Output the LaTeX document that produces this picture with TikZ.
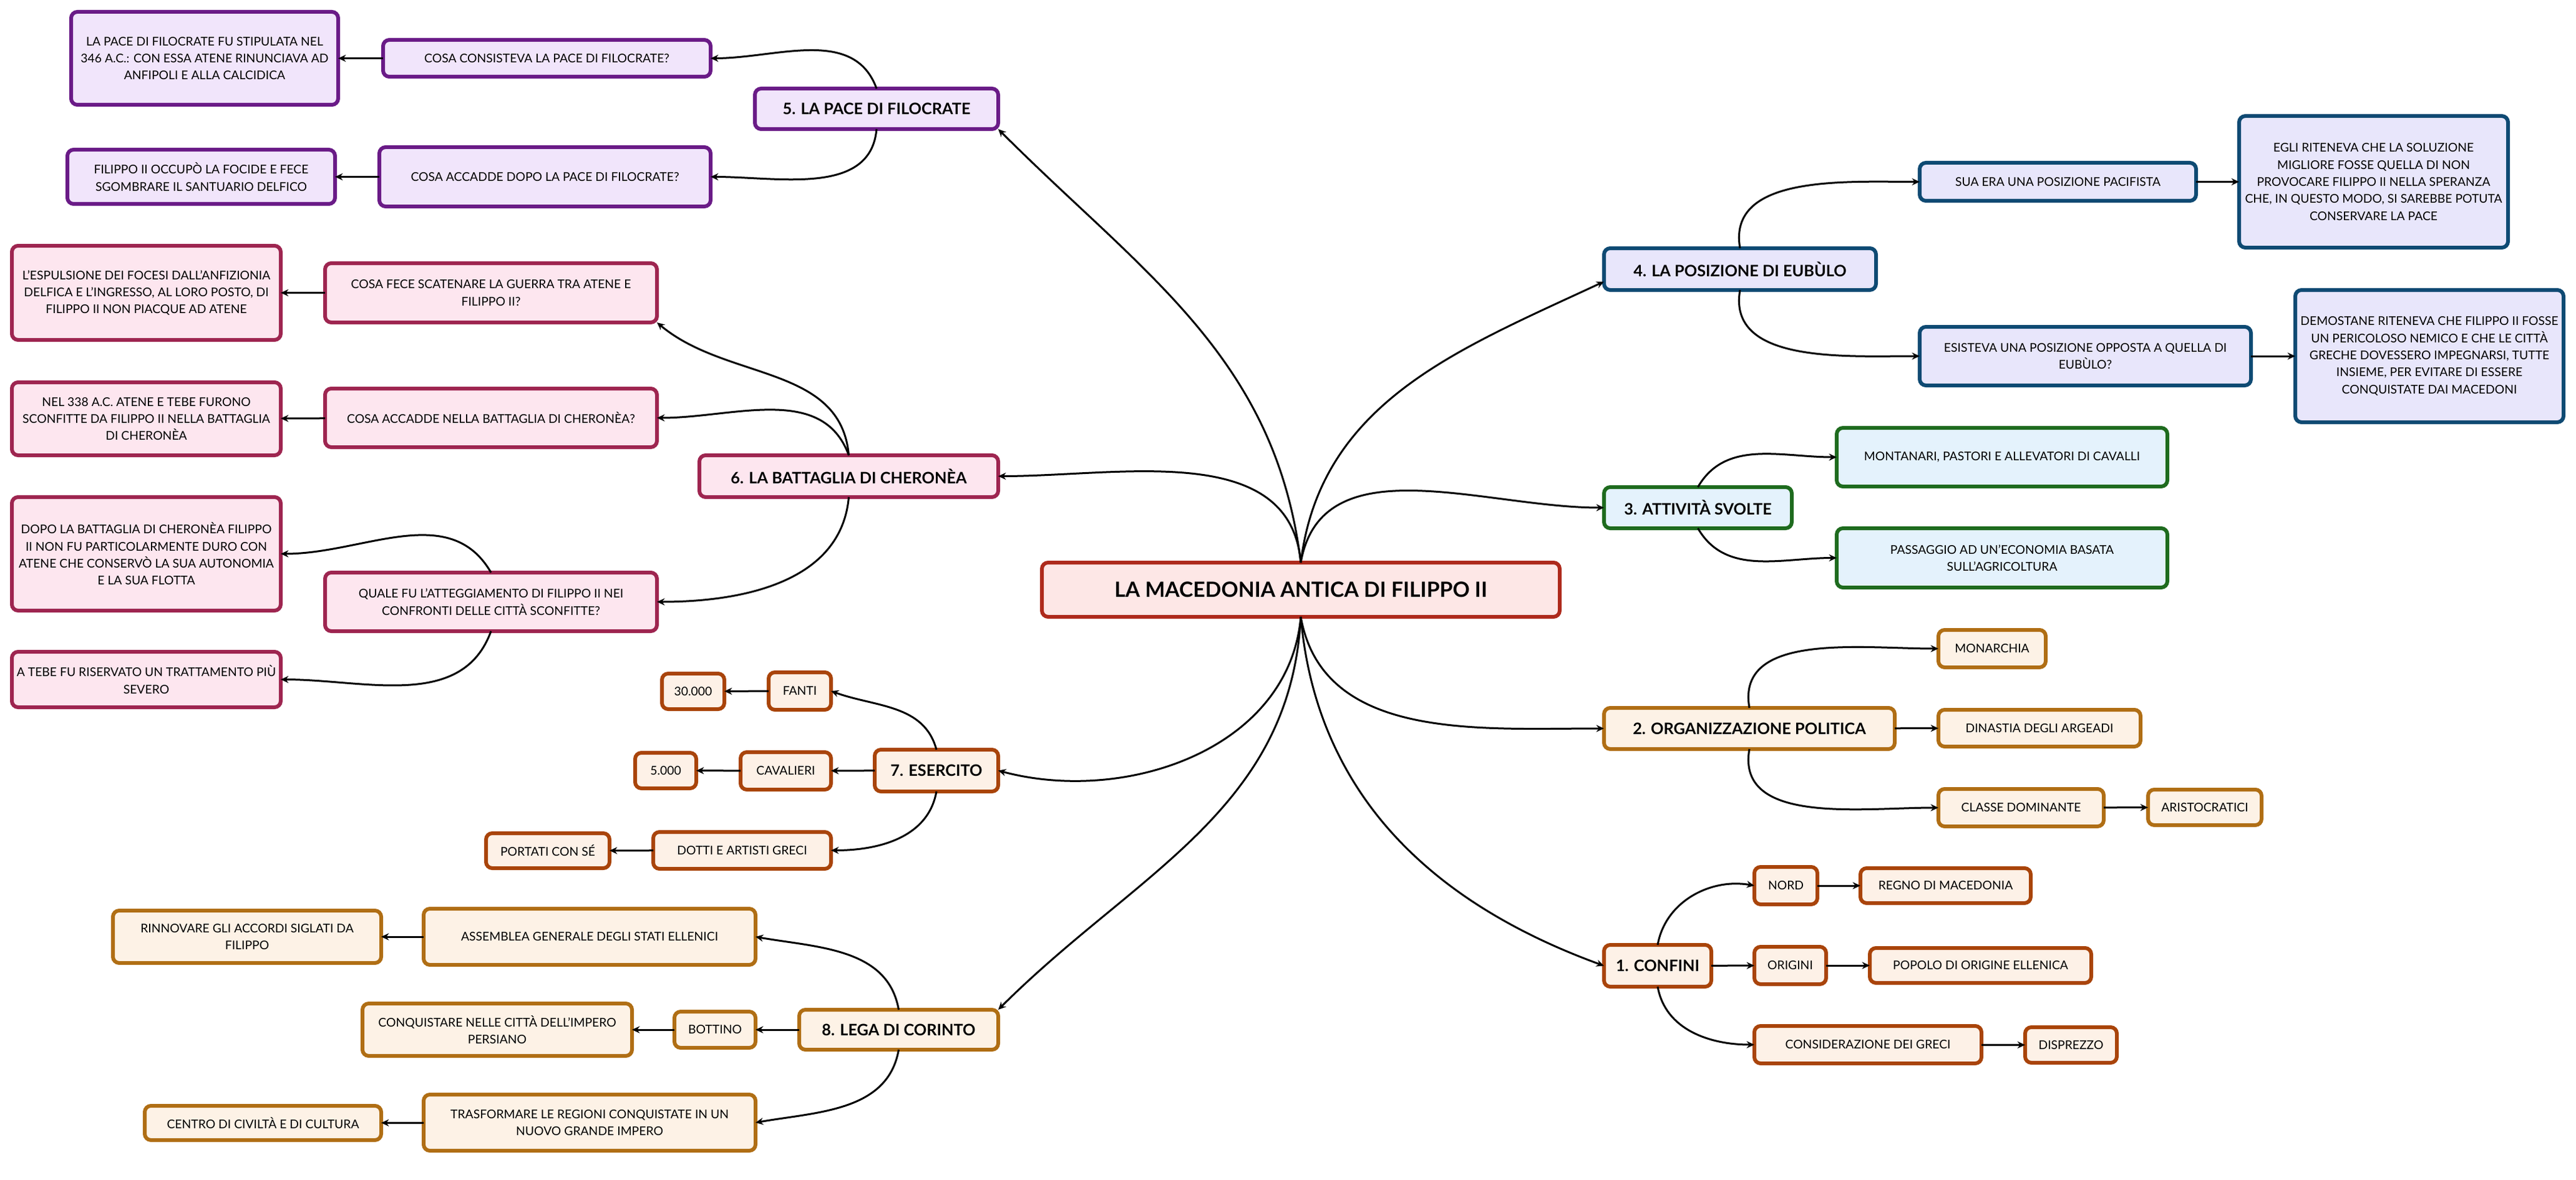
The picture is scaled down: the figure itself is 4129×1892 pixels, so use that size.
\documentclass[tikz,border=0pt]{standalone}
\usepackage{fontspec}
\setmainfont{Lato}
\usetikzlibrary{arrows.meta}
\definecolor{purB}{HTML}{6A1B87}\definecolor{purF}{HTML}{F1E5FB}
\definecolor{crB}{HTML}{9E2550}\definecolor{crF}{HTML}{FDE6EF}
\definecolor{ruB}{HTML}{A9440A}\definecolor{ruF}{HTML}{FDF1E7}
\definecolor{ocB}{HTML}{B06E14}\definecolor{ocF}{HTML}{FDF2E6}
\definecolor{nvB}{HTML}{0E4A73}\definecolor{nvF}{HTML}{E8E6FB}
\definecolor{grB}{HTML}{1E6B1E}\definecolor{grF}{HTML}{E4F2FC}
\definecolor{ceB}{HTML}{AE2A1C}\definecolor{ceF}{HTML}{FDE7E6}
\newcommand\bx[7]{\node[#2, minimum width={(#5-#3)*0.1mm}, minimum height={(#6-#4)*0.1mm}] (#1) at ({(#3+#5)/2},{(#4+#6)/2}) {#7};}
\tikzset{
 box/.style={rectangle, rounded corners=1mm, line width=0.6mm, align=center, inner sep=0.5mm, outer sep=0pt, font=\fontsize{5.5}{7.8}\selectfont},
 mainb/.style={box, font=\fontsize{7.2}{9}\selectfont\bfseries},
 pu/.style={box, draw=purB, fill=purF}, cr/.style={box, draw=crB, fill=crF},
 ru/.style={box, draw=ruB, fill=ruF}, oc/.style={box, draw=ocB, fill=ocF},
 nv/.style={box, draw=nvB, fill=nvF}, gr/.style={box, draw=grB, fill=grF},
 conn/.style={line width=0.3mm, -{Stealth[length=3.5pt,width=3.2pt]}},
}
\begin{document}
\begin{tikzpicture}[x=0.1mm,y=-0.1mm]
\useasboundingbox (0,0) rectangle (4129,1892);
% central
\bx{c}{box,draw=ceB,fill=ceF,font=\fontsize{9.6}{11}\selectfont\bfseries}{1670}{902}{2500}{989}{LA MACEDONIA ANTICA DI FILIPPO II}
% 5
\bx{p5}{pu,mainb}{1210}{142}{1600}{207}{5. LA PACE DI FILOCRATE}
\bx{p5a}{pu}{614}{64}{1139}{123}{COSA CONSISTEVA LA PACE DI FILOCRATE?}
\bx{p5a1}{pu}{114}{19}{542}{168}{LA PACE DI FILOCRATE FU STIPULATA NEL\\346 A.C.: CON ESSA ATENE RINUNCIAVA AD\\ANFIPOLI E ALLA CALCIDICA}
\bx{p5b}{pu}{608}{236}{1139}{331}{COSA ACCADDE DOPO LA PACE DI FILOCRATE?}
\bx{p5b1}{pu}{108}{240}{537}{327}{FILIPPO II OCCUPÒ LA FOCIDE E FECE\\SGOMBRARE IL SANTUARIO DELFICO}
% 6
\bx{p6}{cr,mainb}{1121}{730}{1600}{797}{6. LA BATTAGLIA DI CHERONÈA}
\bx{p6a}{cr}{521}{422}{1053}{517}{COSA FECE SCATENARE LA GUERRA TRA ATENE E\\FILIPPO II?}
\bx{p6a1}{cr}{19}{394}{450}{545}{L'ESPULSIONE DEI FOCESI DALL'ANFIZIONIA\\DELFICA E L'INGRESSO, AL LORO POSTO, DI\\FILIPPO II NON PIACQUE AD ATENE}
\bx{p6b}{cr}{521}{623}{1053}{717}{COSA ACCADDE NELLA BATTAGLIA DI CHERONÈA?}
\bx{p6b1}{cr}{19}{613}{450}{730}{NEL 338 A.C. ATENE E TEBE FURONO\\SCONFITTE DA FILIPPO II NELLA BATTAGLIA\\DI CHERONÈA}
\bx{p6c}{cr}{521}{918}{1053}{1012}{QUALE FU L'ATTEGGIAMENTO DI FILIPPO II NEI\\CONFRONTI DELLE CITTÀ SCONFITTE?}
\bx{p6c1}{cr}{19}{797}{450}{979}{DOPO LA BATTAGLIA DI CHERONÈA FILIPPO\\II NON FU PARTICOLARMENTE DURO CON\\ATENE CHE CONSERVÒ LA SUA AUTONOMIA\\E LA SUA FLOTTA}
\bx{p6c2}{cr}{19}{1045}{450}{1134}{A TEBE FU RISERVATO UN TRATTAMENTO PIÙ\\SEVERO}
% 7
\bx{p7}{ru,mainb}{1402}{1202}{1600}{1269}{7. ESERCITO}
\bx{p7a}{ru}{1232}{1078}{1332}{1138}{FANTI}
\bx{p7a1}{ru}{1061}{1080}{1161}{1137}{30.000}
\bx{p7b}{ru}{1187}{1206}{1332}{1266}{CAVALIERI}
\bx{p7b1}{ru}{1018}{1207}{1116}{1264}{5.000}
\bx{p7c}{ru}{1047}{1334}{1332}{1393}{DOTTI E ARTISTI GRECI}
\bx{p7c1}{ru}{779}{1336}{977}{1392}{PORTATI CON SÉ}
% 8
\bx{p8}{oc,mainb}{1281}{1619}{1600}{1683}{8. LEGA DI CORINTO}
\bx{p8a}{oc}{679}{1457}{1211}{1547}{ASSEMBLEA GENERALE DEGLI STATI ELLENICI}
\bx{p8a1}{oc}{181}{1460}{611}{1544}{RINNOVARE GLI ACCORDI SIGLATI DA\\FILIPPO}
\bx{p8b}{oc}{1081}{1622}{1211}{1680}{BOTTINO}
\bx{p8b1}{oc}{581}{1609}{1013}{1693}{CONQUISTARE NELLE CITTÀ DELL'IMPERO\\PERSIANO}
\bx{p8c}{oc}{679}{1755}{1211}{1845}{TRASFORMARE LE REGIONI CONQUISTATE IN UN\\NUOVO GRANDE IMPERO}
\bx{p8c1}{oc}{232}{1773}{611}{1828}{CENTRO DI CIVILTÀ E DI CULTURA}
% 4
\bx{p4}{nv,mainb}{2571}{398}{3007}{465}{4. LA POSIZIONE DI EUBÙLO}
\bx{p4a}{nv}{3077}{261}{3520}{322}{SUA ERA UNA POSIZIONE PACIFISTA}
\bx{p4a1}{nv}{3589}{186}{4020}{397}{EGLI RITENEVA CHE LA SOLUZIONE\\MIGLIORE FOSSE QUELLA DI NON\\PROVOCARE FILIPPO II NELLA SPERANZA\\CHE, IN QUESTO MODO, SI SAREBBE POTUTA\\CONSERVARE LA PACE}
\bx{p4b}{nv}{3077}{524}{3608}{618}{ESISTEVA UNA POSIZIONE OPPOSTA A QUELLA DI\\EUBÙLO?}
\bx{p4b1}{nv}{3679}{465}{4109}{677}{DEMOSTANE RITENEVA CHE FILIPPO II FOSSE\\UN PERICOLOSO NEMICO E CHE LE CITTÀ\\GRECHE DOVESSERO IMPEGNARSI, TUTTE\\INSIEME, PER EVITARE DI ESSERE\\CONQUISTATE DAI MACEDONI}
% 3
\bx{p3}{gr,mainb}{2571}{781}{2872}{847}{3. ATTIVITÀ SVOLTE}
\bx{p3a}{gr}{2944}{686}{3474}{780}{MONTANARI, PASTORI E ALLEVATORI DI CAVALLI}
\bx{p3b}{gr}{2944}{847}{3474}{942}{PASSAGGIO AD UN'ECONOMIA BASATA\\SULL'AGRICOLTURA}
% 2
\bx{p2}{oc,mainb}{2571}{1135}{3037}{1201}{2. ORGANIZZAZIONE POLITICA}
\bx{p2a}{oc}{3107}{1010}{3279}{1070}{MONARCHIA}
\bx{p2b}{oc}{3107}{1138}{3431}{1197}{DINASTIA DEGLI ARGEADI}
\bx{p2c}{oc}{3107}{1265}{3372}{1325}{CLASSE DOMINANTE}
\bx{p2c1}{oc}{3443}{1266}{3625}{1323}{ARISTOCRATICI}
% 1
\bx{p1}{ru,mainb}{2571}{1515}{2743}{1582}{1. CONFINI}
\bx{p1a}{ru}{2812}{1390}{2913}{1450}{NORD}
\bx{p1a1}{ru}{2982}{1392}{3255}{1448}{REGNO DI MACEDONIA}
\bx{p1b}{ru}{2812}{1518}{2927}{1578}{ORIGINI}
\bx{p1b1}{ru}{2997}{1520}{3352}{1576}{POPOLO DI ORIGINE ELLENICA}
\bx{p1c}{ru}{2812}{1645}{3176}{1705}{CONSIDERAZIONE DEI GRECI}
\bx{p1c1}{ru}{3246}{1647}{3393}{1704}{DISPREZZO}
% main connectors
\draw[conn] (c.north) to[out=97,in=-45] (p5.south east);
\draw[conn] (c.north) to[out=95,in=0] (p6.east);
\draw[conn] (c.north) to[out=83,in=205] ([yshift=-2mm]p4.west);
\draw[conn] (c.north) to[out=80,in=180] (p3.west);
\draw[conn] (c.south) to[out=-95,in=-15] (p7.east);
\draw[conn] (c.south) to[out=-93,in=45] (p8.north east);
\draw[conn] (c.south) to[out=-80,in=180] (p2.west);
\draw[conn] (c.south) to[out=-85,in=160] (p1.west);
% 5
\draw[conn] (p5.north) to[out=110,in=0] (p5a.east);
\draw[conn] (p5.south) to[out=-95,in=0] (p5b.east);
\draw[conn] (p5a) -- (p5a1);
\draw[conn] (p5b) -- (p5b1);
% 6
\draw[conn] (p6.north) to[out=95,in=-40] (p6a.south east);
\draw[conn] (p6.north) to[out=110,in=0] (p6b.east);
\draw[conn] (p6.south) to[out=-95,in=0] (p6c.east);
\draw[conn] (p6a) -- (p6a1);
\draw[conn] (p6b) -- (p6b1);
\draw[conn] (p6c.north) to[out=120,in=0] (p6c1.east);
\draw[conn] (p6c.south) to[out=-110,in=0] (p6c2.east);
% 7
\draw[conn] (p7.north) to[out=105,in=-20] (p7a.east);
\draw[conn] (p7) -- (p7b);
\draw[conn] (p7.south) to[out=-100,in=0] (p7c.east);
\draw[conn] (p7a) -- (p7a1);
\draw[conn] (p7b) -- (p7b1);
\draw[conn] (p7c) -- (p7c1);
% 8
\draw[conn] (p8.north) to[out=100,in=-10] (p8a.east);
\draw[conn] (p8) -- (p8b);
\draw[conn] (p8.south) to[out=-100,in=10] (p8c.east);
\draw[conn] (p8a) -- (p8a1);
\draw[conn] (p8b) -- (p8b1);
\draw[conn] (p8c) -- (p8c1);
% 4
\draw[conn] (p4.north) to[out=100,in=180] (p4a.west);
\draw[conn] (p4.south) to[out=-100,in=180] (p4b.west);
\draw[conn] (p4a) -- (p4a1);
\draw[conn] (p4b) -- (p4b1);
% 3
\draw[conn] (p3.north) to[out=60,in=180] (p3a.west);
\draw[conn] (p3.south) to[out=-60,in=180] (p3b.west);
% 2
\draw[conn] (p2.north) to[out=100,in=180] (p2a.west);
\draw[conn] (p2) -- (p2b);
\draw[conn] (p2.south) to[out=-100,in=180] (p2c.west);
\draw[conn] (p2c) -- (p2c1);
% 1
\draw[conn] (p1.north) to[out=80,in=170] (p1a.west);
\draw[conn] (p1) -- (p1b);
\draw[conn] (p1.south) to[out=-80,in=180] (p1c.west);
\draw[conn] (p1a) -- (p1a1);
\draw[conn] (p1b) -- (p1b1);
\draw[conn] (p1c) -- (p1c1);
\end{tikzpicture}
\end{document}
